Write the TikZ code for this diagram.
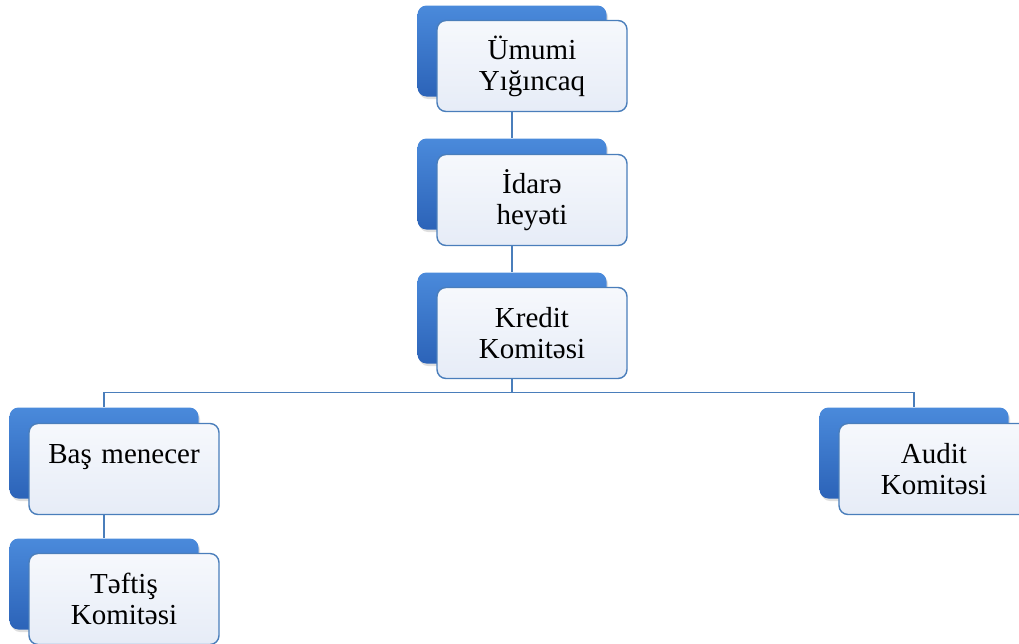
\documentclass[tikz,border=0pt]{standalone}
\usepackage{fontspec}
\setmainfont{Liberation Serif}
\usetikzlibrary{positioning, shadows, backgrounds, calc}
\definecolor{smartblue}{HTML}{4A8ADB}
\definecolor{smartblueDark}{HTML}{2C63B8}
\definecolor{smartline}{HTML}{4A7EBB}
\definecolor{paleFill}{HTML}{E6ECF7}

\begin{document}
\begin{tikzpicture}[
  x=1pt, y=-1pt,
  font=\fontsize{29}{31}\selectfont,
  backbox/.style={
    rounded corners=9pt,
    minimum width=189pt,
    minimum height=91pt,
    top color=smartblue,
    bottom color=smartblueDark,
    drop shadow={shadow xshift=1.5pt, shadow yshift=-2.5pt, opacity=0.25}
  },
  frontbox/.style={
    draw=smartline,
    line width=1.4pt,
    rounded corners=9pt,
    minimum width=190pt,
    minimum height=91pt,
    text width=184pt,
    align=center,
    inner sep=0pt,
    top color=paleFill!35!white,
    bottom color=paleFill
  },
  link/.style={draw=smartline, line width=1.5pt}
]

\path[use as bounding box, clip] (0,0) rectangle (1019,643);

% Main chain down the middle.
\node[backbox] (umumiB) at (512,51) {};
\node[frontbox] (umumi) at ([shift={(20,15)}]umumiB.center) {Ümumi\\Yığıncaq};

\node[backbox] (idareB) at (512,184) {};
\node[frontbox] (idare) at ([shift={(20,16)}]idareB.center) {İdarə\\heyəti};

\node[backbox] (kreditB) at (512,318) {};
\node[frontbox] (kredit) at ([shift={(20,15)}]kreditB.center) {Kredit\\Komitəsi};

% Two branches under the credit committee.
\node[backbox] (basB) at (104,453) {};
\node[frontbox] (bas) at ([shift={(20,16)}]basB.center) {Baş menecer\\\mbox{}};

\node[backbox] (auditB) at (914,453) {};
\node[frontbox] (audit) at ([shift={(20,16)}]auditB.center) {Audit\\Komitəsi};

\node[backbox] (teftisB) at (104,584) {};
\node[frontbox] (teftis) at ([shift={(20,15)}]teftisB.center) {Təftiş\\Komitəsi};

\coordinate (split) at ([yshift=-29pt]kreditB.south);

% Connectors stay behind the boxes.
\begin{scope}[on background layer]
\draw[link] (umumiB.south) -- (idareB.north);
\draw[link] (idareB.south) -- (kreditB.north);
\draw[link] (kreditB.south) -- (split);
\draw[link] (split) -| (basB.north);
\draw[link] (split) -| (auditB.north);
\draw[link] (basB.south) -- (teftisB.north);
\end{scope}

\end{tikzpicture}
\end{document}
